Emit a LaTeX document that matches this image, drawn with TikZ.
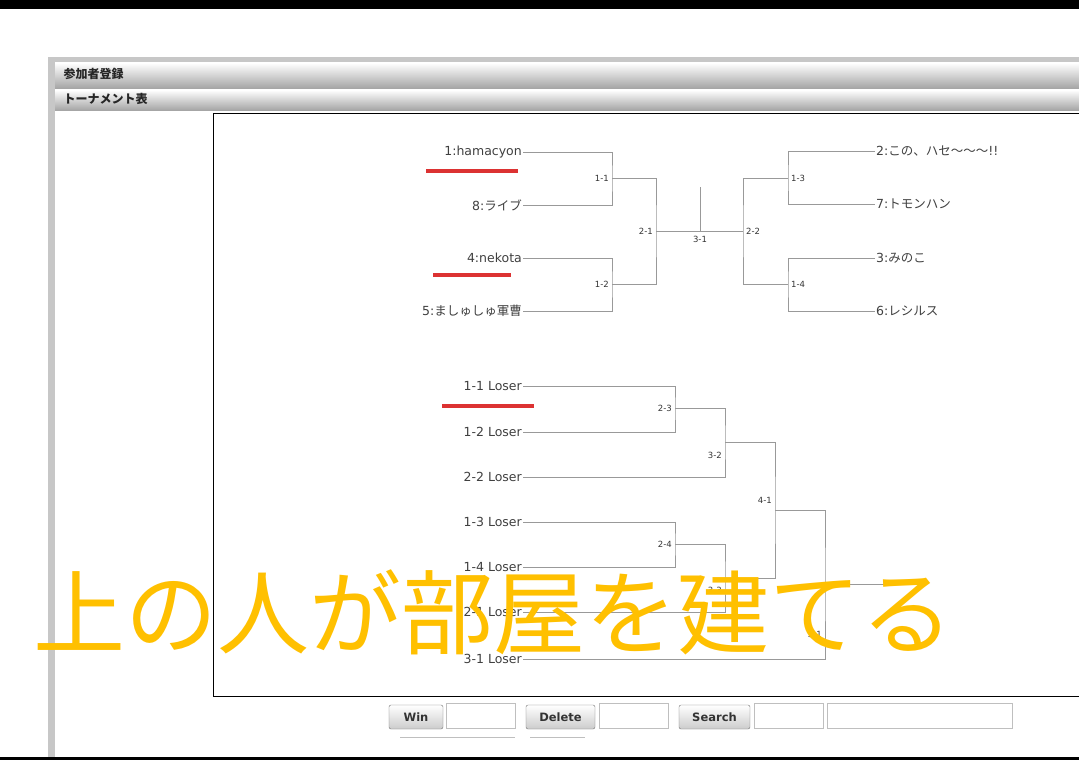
\documentclass[tikz,border=0pt]{standalone}
\usepackage{fontspec}
\setmainfont{DejaVu Sans}
\newfontfamily\jp{Noto Sans CJK JP}
\begin{document}
\begin{tikzpicture}[x=1pt,y=-1pt,
  nm/.style={anchor=east,inner sep=1pt,font=\fontsize{12.5}{13}\selectfont,text=black!75},
  nmr/.style={anchor=west,inner sep=1pt,font=\fontsize{12.5}{13}\selectfont,text=black!75},
  lb/.style={anchor=east,inner sep=1pt,font=\fontsize{8.5}{9}\selectfont,text=black!80},
  lbr/.style={anchor=west,inner sep=1pt,font=\fontsize{8.5}{9}\selectfont,text=black!80},
  br/.style={draw=black!40,line width=0.9pt},
  red/.style={draw={rgb,255:red,220;green,50;blue,50},line width=3.5pt},
  btn/.style={draw=black!55,rounded corners=2pt,top color=white,bottom color=black!20,minimum height=24pt,font=\bfseries\fontsize{11.5}{12}\selectfont,text=black!80},
  inp/.style={draw=black!25,fill=white},
  bar/.style={top color=white,bottom color=black!35}]
\useasboundingbox (0,0) rectangle (1079,760);
\fill[white] (0,0) rectangle (1079,760);
\fill[black] (0,0) rectangle (1079,9);
\fill[black] (0,757) rectangle (1079,760);
% panel
\fill[black!22] (48,57) rectangle (1079,63);
\fill[black!22] (48,57) rectangle (55,757);
\fill[bar] (55,63) rectangle (1079,88);
\fill[bar] (55,90) rectangle (1079,110);
\node[anchor=west,font=\jp\bfseries\fontsize{12}{12}\selectfont,text=black!85] (h1) at (60,74) {参加者登録};
\node[anchor=west,font=\jp\bfseries\fontsize{12}{12}\selectfont,text=black!85] (h2) at (60,99) {トーナメント表};
\draw[black,line width=1pt] (213,113) rectangle (1085,696);
% winners bracket
\node[nm] (p1) at (523,152) {1:hamacyon};
\node[nm] (p8) at (523,205) {8:{\jp ライブ}};
\node[nm] (p4) at (523,258) {4:nekota};
\node[nm] (p5) at (523,311) {5:{\jp ましゅしゅ軍曹}};
\node[nmr] (p2) at (875,151) {2:{\jp この、ハセ〜〜〜}!!};
\node[nmr] (p7) at (875,204) {7:{\jp トモンハン}};
\node[nmr] (p3) at (875,258) {3:{\jp みのこ}};
\node[nmr] (p6) at (875,311) {6:{\jp レシルス}};
\draw[br] (p1.east) -| (612,178) coordinate (m11) |- (p8.east);
\draw[br] (p4.east) -| (612,284) coordinate (m12) |- (p5.east);
\draw[br] (m11) -| (656,231) coordinate (m21) |- (m12);
\draw[br] (p2.west) -| (788,178) coordinate (m13) |- (p7.west);
\draw[br] (p3.west) -| (788,284) coordinate (m14) |- (p6.west);
\draw[br] (m13) -| (743,231) coordinate (m22) |- (m14);
\draw[br] (m21) -- (m22);
\coordinate (m31) at (700,231);
\draw[br] (m31) -- (700,187);
\node[lb] at (610,178) {1-1};
\node[lb] at (610,284) {1-2};
\node[lb] at (654,231) {2-1};
\node[lbr] at (790,178) {1-3};
\node[lbr] at (790,284) {1-4};
\node[lbr] at (745,231) {2-2};
\node[font=\fontsize{8.5}{9}\selectfont,text=black!80] at (700,239) {3-1};
% losers bracket
\node[nm] (l11) at (523,386) {1-1 Loser};
\node[nm] (l12) at (523,432) {1-2 Loser};
\node[nm] (l22) at (523,477) {2-2 Loser};
\node[nm] (l13) at (523,522) {1-3 Loser};
\node[nm] (l14) at (523,567) {1-4 Loser};
\node[nm] (l21) at (523,612) {2-1 Loser};
\node[nm] (l31) at (523,659) {3-1 Loser};
\draw[br] (l11.east) -| (675,408) coordinate (k23) |- (l12.east);
\draw[br] (l13.east) -| (675,544) coordinate (k24) |- (l14.east);
\draw[br] (k23) -| (725,442) coordinate (k32) |- (l22.east);
\draw[br] (k24) -| (725,578) coordinate (k33) |- (l21.east);
\draw[br] (k32) -| (775,510) coordinate (k41) |- (k33);
\draw[br] (k41) -| (825,584) coordinate (k51) |- (l31.east);
\draw[br] (k51) -- (890,584);
\node[lb] at (673,408) {2-3};
\node[lb] at (673,544) {2-4};
\node[lb] at (723,455) {3-2};
\node[lb] at (723,590) {3-3};
\node[lb] at (773,500) {4-1};
\node[lb] at (823,634) {5-1};
% red marks
\draw[red] (426,171) -- (518,171);
\draw[red] (433,275) -- (511,275);
\draw[red] (442,406) -- (534,406);
% buttons
\node[btn,minimum width=54pt] (bw) at (416,717) {Win};
\node[inp,minimum width=69pt,minimum height=25pt] (iw) at (480.5,716) {};
\node[btn,minimum width=69pt] (bd) at (560.5,717) {Delete};
\node[inp,minimum width=69pt,minimum height=25pt] (id) at (633.5,716) {};
\node[btn,minimum width=71pt] (bs) at (714.5,717) {Search};
\node[inp,minimum width=69pt,minimum height=25pt] (is1) at (788.5,716) {};
\node[inp,minimum width=185pt,minimum height=25pt] (is2) at (919.5,716) {};
\draw[black!25] (400,737) -- (515,737);
\draw[black!25] (530,737) -- (585,737);
% overlay
\node[anchor=west,inner sep=0pt,text={rgb,255:red,255;green,192;blue,0},font=\jp\fontsize{92}{92}\selectfont] (ov) at (33,612) {上の人が部屋を建てる};
\end{tikzpicture}
\end{document}
